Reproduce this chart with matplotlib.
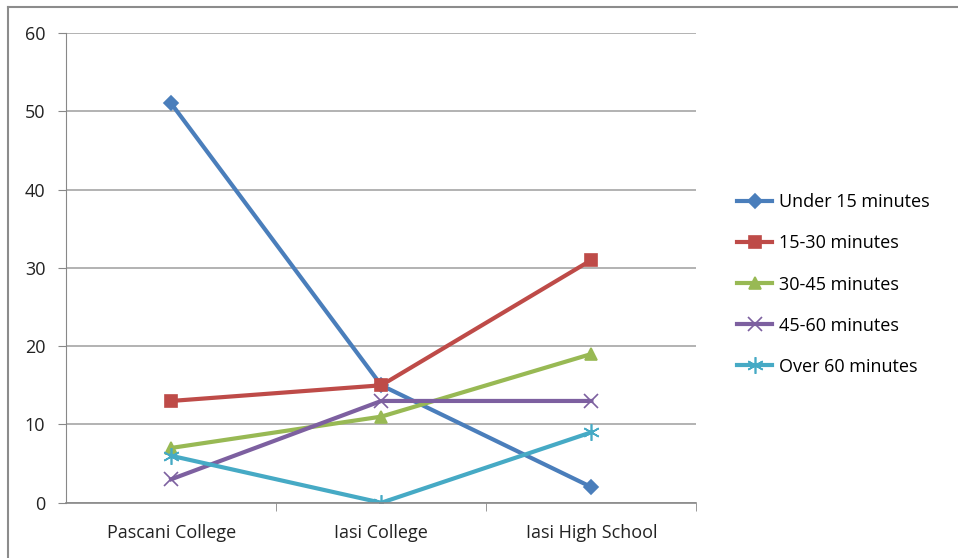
import matplotlib.pyplot as plt
from matplotlib.lines import Line2D

plt.rcParams['font.family'] = ['Open Sans', 'DejaVu Sans']

schools = ['Pascani College', 'Iasi College', 'Iasi High School']
under_15 = [51, 15, 2]
m15_30 = [13, 15, 31]
m30_45 = [7, 11, 19]
m45_60 = [3, 13, 13]
over_60 = [6, 0, 9]

series = [
    ('Under 15 minutes', under_15, '#4A7EBB', 'D', 7),
    ('15-30 minutes', m15_30, '#BE4B48', 's', 9),
    ('30-45 minutes', m30_45, '#98B954', '^', 9),
    ('45-60 minutes', m45_60, '#7D60A0', 'x', 10),
    ('Over 60 minutes', over_60, '#46AAC5', (6, 2, 0), 12),
]

fig = plt.figure(figsize=(9.58, 5.58), dpi=100)
ax = fig.add_axes([0.069, 0.099, 0.658, 0.842])

x = list(range(len(schools)))
for label, vals, color, marker, ms in series:
    ax.plot(x, vals, color=color, lw=3, marker=marker, markersize=ms,
            markeredgewidth=1.2, label=label, solid_joinstyle='round')

ax.set_xlim(-0.5, 2.5)
ax.set_ylim(0, 60)
ax.set_yticks(range(0, 61, 10))
ax.set_xticks(x)
ax.set_xticklabels(schools)
ax.set_xticks([0.5, 1.5, 2.5], minor=True)
ax.tick_params(axis='x', which='major', length=0, pad=15, labelsize=13, colors='#222222')
ax.tick_params(axis='x', which='minor', length=6, color='#888888')
ax.tick_params(axis='y', length=6, color='#888888', pad=9, labelsize=13, labelcolor='#222222')
ax.yaxis.grid(True, color='#A6A6A6', lw=1.2)
ax.set_axisbelow(True)
for side in ['top', 'right']:
    ax.spines[side].set_visible(False)
ax.spines['left'].set_color('#888888')
ax.spines['bottom'].set_color('#888888')
ax.spines['bottom'].set_linewidth(1.2)

fig.legend(*ax.get_legend_handles_labels(), loc='center left',
           bbox_to_anchor=(0.760, 0.490), frameon=False, borderpad=0,
           fontsize=13, labelspacing=1.28, handlelength=1.95, handletextpad=0.35)

# chart border (left and top edges only, as in the reference)
fig.add_artist(Line2D([8 / 958, 8 / 958], [0, 1 - 7 / 558], transform=fig.transFigure,
                      color='#8C8C8C', lw=1.5))
fig.add_artist(Line2D([8 / 958, 1], [1 - 7 / 558, 1 - 7 / 558], transform=fig.transFigure,
                      color='#8C8C8C', lw=1.5))

fig.savefig('out.png', dpi=100)
